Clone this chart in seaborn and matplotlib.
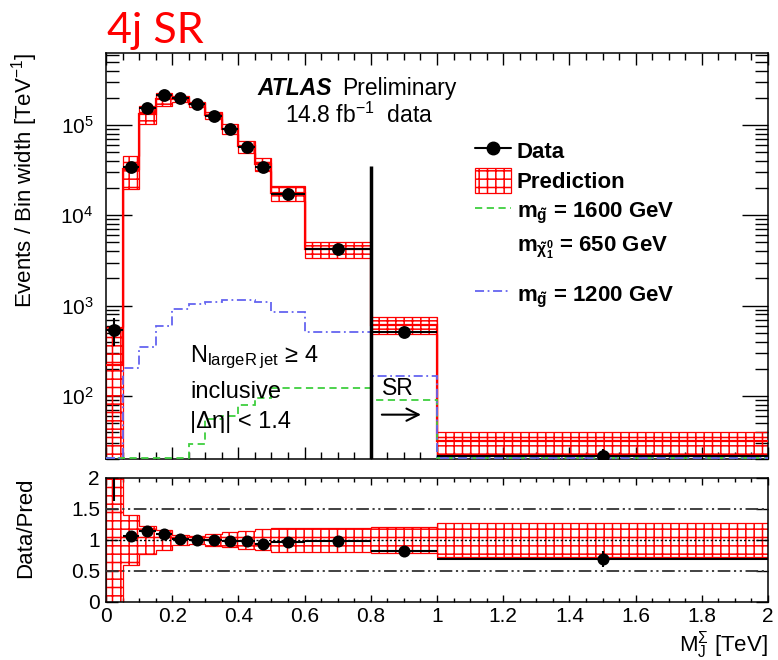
import numpy as np
import matplotlib
matplotlib.use("Agg")
import matplotlib.pyplot as plt
import seaborn as sns
from matplotlib.lines import Line2D
from matplotlib.patches import Patch
from matplotlib.ticker import MultipleLocator, FuncFormatter, LogLocator, NullFormatter

# ---------------- data ----------------
bin_edges = [0, 0.05, 0.1, 0.15, 0.2, 0.25, 0.3, 0.35, 0.4, 0.45, 0.5, 0.6, 0.8, 1.0, 2.0]
data_vals = [540, 34600, 153000, 214000, 200000, 169000, 127000, 90000, 57500, 34600, 17100, 4200, 510, 21.7]
data_errs = [180, 830, 1750, 2070, 2000, 1840, 1600, 1340, 1070, 830, 410, 100, 45, 4.0]
pred_vals = [220, 32500, 133000, 195000, 196000, 169000, 128000, 91000, 58000, 37200, 17600, 4240, 615, 31.5]
pred_errs = [360, 13000, 31000, 31000, 16000, 10000, 11500, 11000, 8700, 6300, 3300, 850, 130, 8.8]
sig1600_vals = [0, 0, 0, 0, 0, 29, 56, 60, 80, 95, 122, 122, 90, 0]
sig1200_vals = [0, 205, 350, 600, 910, 1040, 1090, 1150, 1150, 1090, 853, 513, 166, 0]
x_ticks = [0, 0.2, 0.4, 0.6, 0.8, 1.0, 1.2, 1.4, 1.6, 1.8, 2.0]
ratio_ticks = [0, 0.5, 1, 1.5, 2]

edges = np.array(bin_edges)
centers = 0.5 * (edges[:-1] + edges[1:])
halfw = 0.5 * np.diff(edges)
data = np.array(data_vals)
derr = np.array(data_errs)
pred = np.array(pred_vals)
perr = np.array(pred_errs)
s1600 = np.array(sig1600_vals, dtype=float)
s1200 = np.array(sig1200_vals, dtype=float)

YMIN, YMAX = 20, 6.3e5

# ---------------- style ----------------
sns.set_theme(style="ticks")
plt.rcParams["font.family"] = ["Liberation Sans", "DejaVu Sans"]
plt.rcParams["mathtext.fontset"] = "custom"
plt.rcParams["mathtext.rm"] = "Liberation Sans"
plt.rcParams["mathtext.it"] = "Liberation Sans:italic"
plt.rcParams["mathtext.bf"] = "Liberation Sans:bold"
plt.rcParams["mathtext.default"] = "regular"
plt.rcParams["hatch.linewidth"] = 1.1
plt.rcParams["hatch.color"] = "red"
plt.rcParams["axes.edgecolor"] = "black"
plt.rcParams["axes.linewidth"] = 1.1
plt.rcParams["xtick.color"] = "black"
plt.rcParams["ytick.color"] = "black"
plt.rcParams["text.color"] = "black"
plt.rcParams["axes.labelcolor"] = "black"

GREEN = "#3fcf3f"
BLUE = "#6464f0"
HATCH = "++"

fig = plt.figure(figsize=(7.78, 6.60), dpi=100)
ax1 = fig.add_axes([0.1362, 0.3045, 0.8510, 0.6155])
ax2 = fig.add_axes([0.1362, 0.0879, 0.8510, 0.1879])

# ---------------- top panel ----------------
ax1.set_yscale("log")
lo = np.clip(pred - perr, YMIN * 0.5, None)
hi = pred + perr
ax1.stairs(hi, edges, baseline=lo, fill=True, facecolor="none", edgecolor="red",
           hatch=HATCH, lw=0.9, zorder=2)
ax1.stairs(pred, edges, baseline=None, color="red", lw=1.6, zorder=3)
ax1.stairs(np.clip(s1600, YMIN * 1.03, None), edges, baseline=None, color=GREEN,
           ls=(0, (4, 2.5)), lw=1.3, zorder=3)
ax1.stairs(np.clip(s1200, YMIN * 1.03, None), edges, baseline=None, color=BLUE,
           ls=(0, (5, 2, 1, 2)), lw=1.3, zorder=3)

ax1.errorbar(centers, data, xerr=halfw, yerr=derr, fmt="none", ecolor="black",
             elinewidth=1.5, capsize=0, zorder=5)
sns.scatterplot(x=centers, y=data, ax=ax1, color="black", s=85, linewidth=0, zorder=6)

# signal-region cut line and arrow
ax1.vlines(0.8, YMIN, 3.5e4, color="black", lw=2.5, zorder=7)
ax1.annotate("", xy=(0.96, 62), xytext=(0.825, 62),
             arrowprops=dict(arrowstyle="->", lw=1.5, color="black", mutation_scale=22))
ax1.text(0.835, 122, "SR", fontsize=16.5, ha="left", va="center")

ax1.set_xlim(0, 2)
ax1.set_ylim(YMIN, YMAX)
ax1.xaxis.set_major_locator(MultipleLocator(0.2))
ax1.xaxis.set_minor_locator(MultipleLocator(0.05))
ax1.yaxis.set_major_locator(LogLocator(base=10))
ax1.yaxis.set_minor_locator(LogLocator(base=10, subs=np.arange(2, 10)))
ax1.yaxis.set_minor_formatter(NullFormatter())
ax1.tick_params(which="both", direction="in", top=True, right=True, labelbottom=False)
ax1.tick_params(axis="x", which="major", length=8.5, width=1)
ax1.tick_params(axis="x", which="minor", length=5, width=1)
ax1.tick_params(axis="y", which="major", length=19, width=1, labelsize=15, pad=9)
ax1.tick_params(axis="y", which="minor", length=9.5, width=1)
ax1.set_ylabel("Events / Bin width [TeV$^{-1}$]", fontsize=16, loc="top")
ax1.yaxis.set_label_coords(-0.10, 1.0)

# annotation texts
ax1.text(0.127, 0.239, r"N$_{\mathrm{largeR\;jet}}$ ≥ 4", transform=ax1.transAxes,
         fontsize=17, va="baseline", ha="left")
ax1.text(0.127, 0.150, "inclusive", transform=ax1.transAxes,
         fontsize=17, va="baseline", ha="left")
ax1.text(0.127, 0.076, "|Δη| < 1.4", transform=ax1.transAxes,
         fontsize=17, va="baseline", ha="left")

fig.text(257 / 778, 1 - 95 / 660, "ATLAS", fontsize=16.5, weight="bold", style="italic",
         va="baseline", ha="left")
fig.text(342 / 778, 1 - 95 / 660, "Preliminary", fontsize=16.5, va="baseline", ha="left")
fig.text(285 / 778, 1 - 123 / 660, "14.8 fb$^{-1}$  data", fontsize=16.5, va="baseline", ha="left")
fig.text(107 / 778, 1 - 43 / 660, "4j SR", color="red", fontsize=31, family="Lato",
         va="baseline", ha="left")

# legend (two blocks: main entries, then the 1200 GeV signal lower down)
leg_kw = dict(loc="upper left", frameon=False, prop=dict(size=16, weight="bold"),
              handlelength=1.6, handletextpad=0.25, labelspacing=0.24, handleheight=1.3,
              borderpad=0, borderaxespad=0)
handles_a = [
    Line2D([], [], color="black", marker="o", markersize=9, lw=1.5),
    Patch(facecolor="none", edgecolor="red", hatch=HATCH, lw=0.9),
    Line2D([], [], color=GREEN, ls=(0, (4, 2.5)), lw=1.3),
    Line2D([], [], color="none"),
]
labels_a = [
    "Data",
    "Prediction",
    r"m$_{\tilde{g}}$ = 1600 GeV",
    r"m$_{\tilde{\chi}^0_1}$ = 650 GeV",
]
leg_a = ax1.legend(handles_a, labels_a, bbox_to_anchor=(0.5580, 0.789), **leg_kw)
ax1.add_artist(leg_a)
handles_b = [Line2D([], [], color=BLUE, ls=(0, (5, 2, 1, 2)), lw=1.3)]
labels_b = [r"m$_{\tilde{g}}$ = 1200 GeV"]
ax1.legend(handles_b, labels_b, bbox_to_anchor=(0.5580, 0.437), **leg_kw)

# ---------------- ratio panel ----------------
ratio = data / pred
rerr = derr / pred
band = perr / pred
ax2.stairs(1 + band, edges, baseline=1 - band, fill=True, facecolor="none",
           edgecolor="red", hatch=HATCH, lw=0.9, zorder=2)
ax2.axhline(1, color="black", ls=(0, (1.5, 1.5)), lw=1, zorder=3)
for yy in (0.5, 1.5):
    ax2.axhline(yy, color="#333333", ls=(0, (7, 2, 1.2, 2, 1.2, 2)), lw=1.3, zorder=3)
ax2.errorbar(centers, ratio, xerr=halfw, yerr=rerr, fmt="none", ecolor="black",
             elinewidth=1.5, capsize=0, zorder=5)
sns.scatterplot(x=centers, y=ratio, ax=ax2, color="black", s=75, linewidth=0, zorder=6)

ax2.set_xlim(0, 2)
ax2.set_ylim(0, 2)
ax2.set_xticks(x_ticks)
ax2.set_yticks(ratio_ticks)
ax2.xaxis.set_minor_locator(MultipleLocator(0.05))
fmt = FuncFormatter(lambda v, p: "%g" % v)
ax2.xaxis.set_major_formatter(fmt)
ax2.yaxis.set_major_formatter(fmt)
ax2.tick_params(which="both", direction="in", top=True, right=True)
ax2.tick_params(axis="x", which="major", length=5, width=1, labelsize=15, pad=3.5)
ax2.tick_params(axis="x", which="minor", length=3, width=1)
ax2.tick_params(axis="y", which="major", length=8.5, width=1, labelsize=15, pad=4.3)
ax2.set_ylabel("Data/Pred", fontsize=16, loc="top")
ax2.yaxis.set_label_coords(-0.105, 1.0)
ax2.set_xlabel(r"M$_{J}^{\Sigma}$ [TeV]", fontsize=16, loc="right")
ax2.xaxis.set_label_coords(1.0, -0.22)

fig.savefig("out.png", dpi=100)
